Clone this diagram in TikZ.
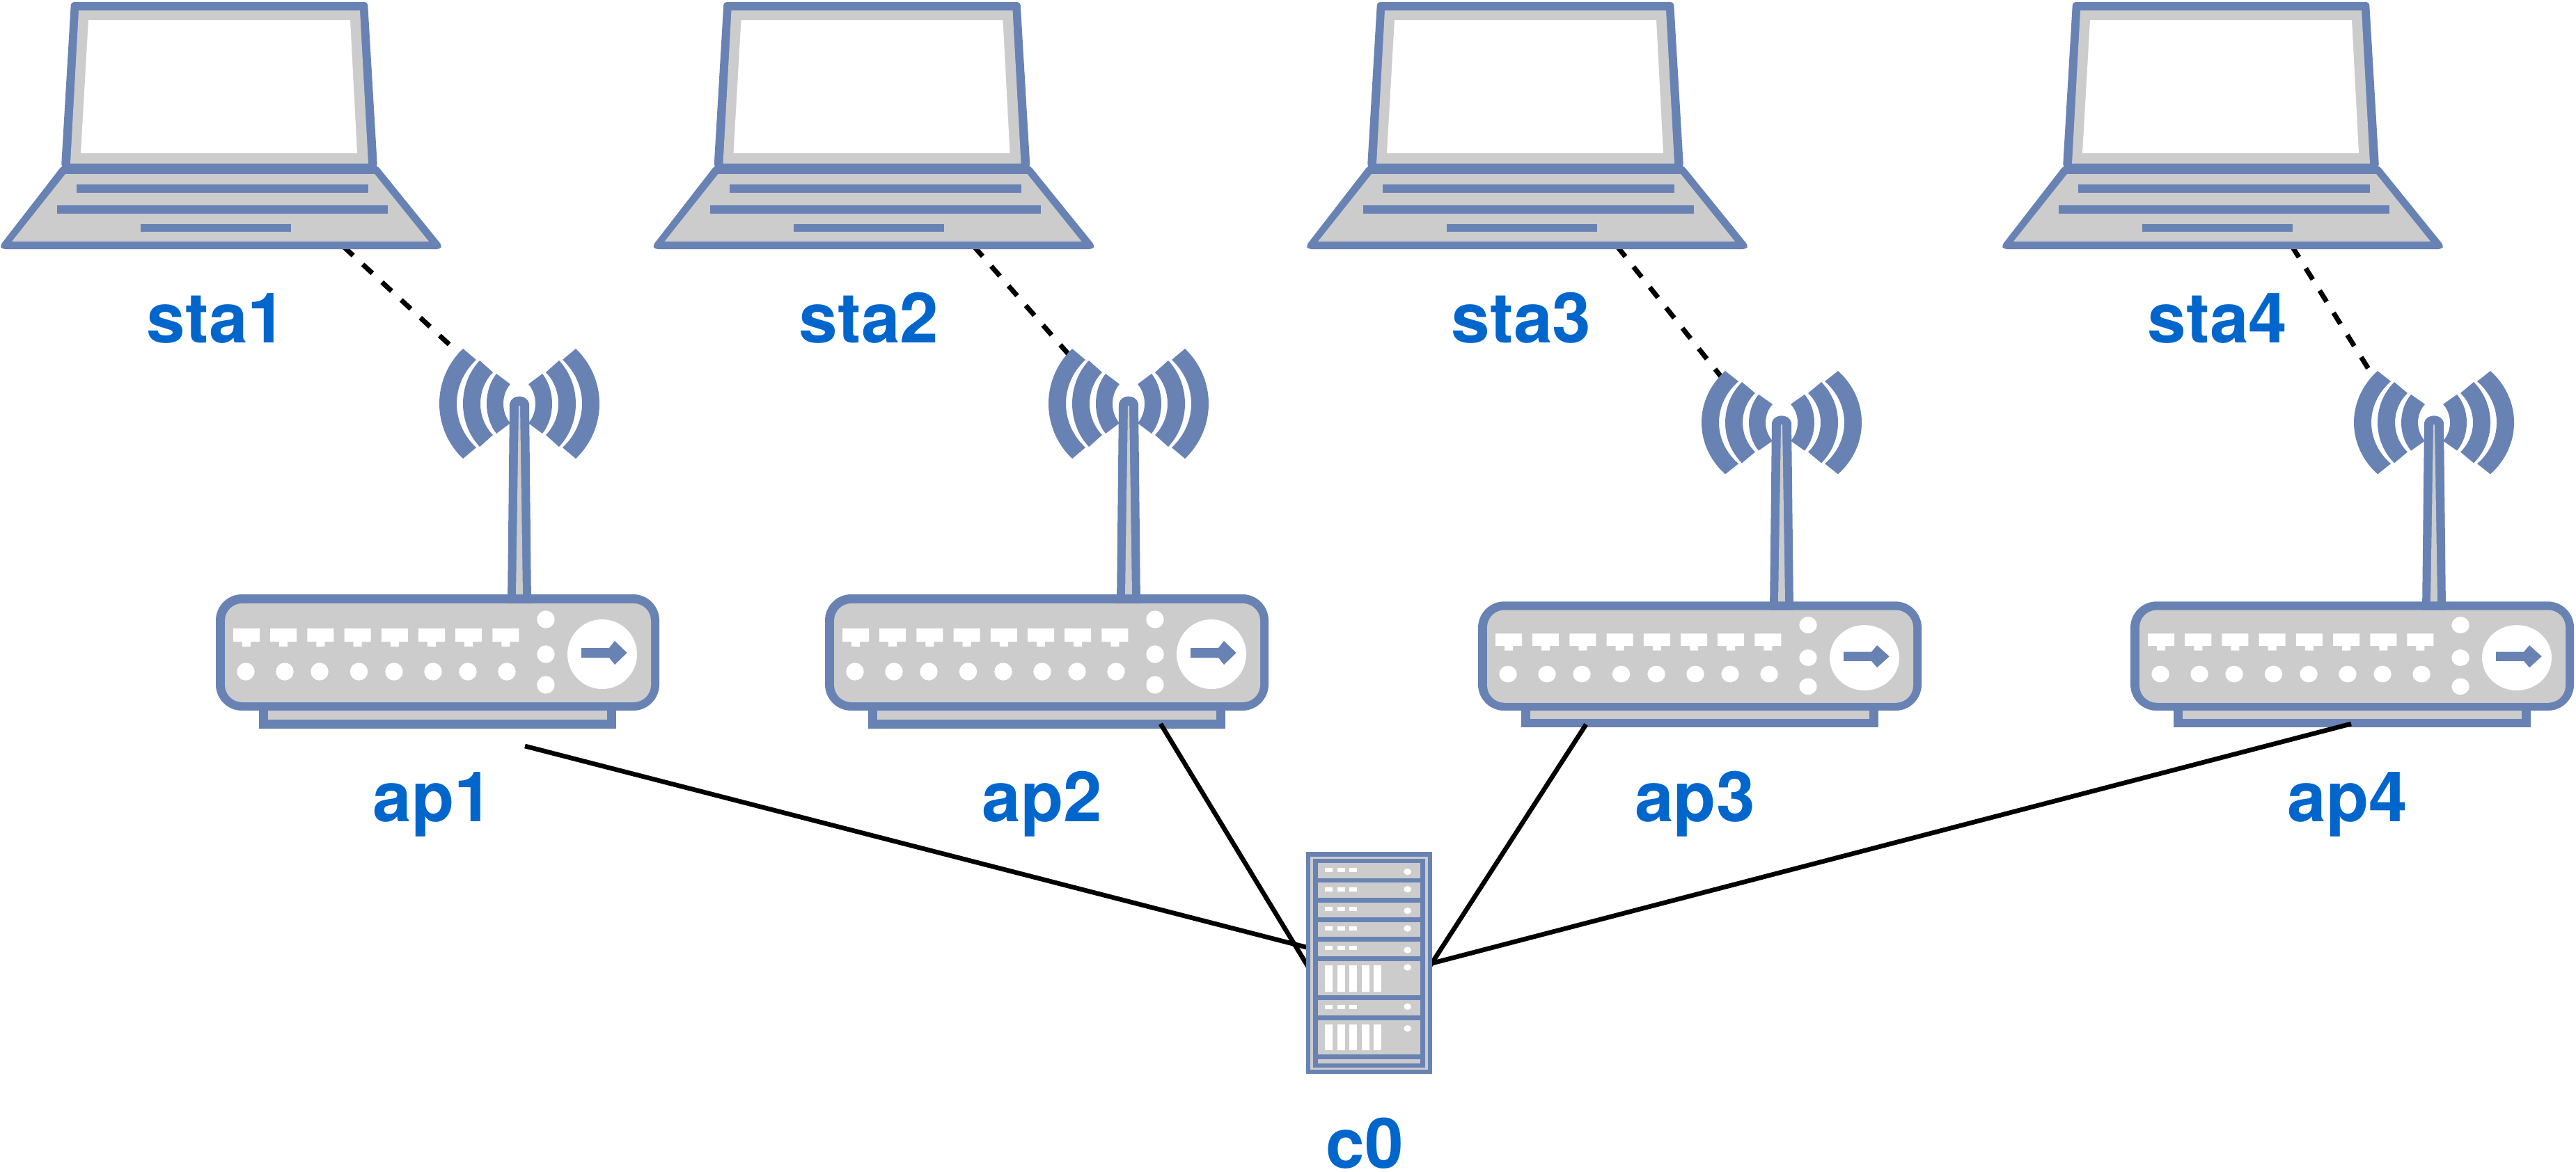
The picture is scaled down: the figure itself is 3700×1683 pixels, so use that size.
\documentclass[tikz,border=0pt]{standalone}
\usepackage{fontspec}
\setmainfont{TeX Gyre Heros}
\definecolor{iconblue}{HTML}{6982B4}
\definecolor{icongray}{HTML}{CCCCCC}
\definecolor{labelblue}{HTML}{0066CC}
\tikzset{
  x=0.24pt,y=-0.24pt,
  iconlabel/.style={text=labelblue,font=\bfseries\fontsize{24pt}{28pt}\selectfont,anchor=base,inner sep=0pt,outer sep=0pt},
  wired/.style={draw=black,line width=1.6pt},
  wireless/.style={draw=black,line width=1.7pt,dash pattern=on 4.51pt off 4.51pt},
  bluefill/.style={fill=iconblue},
  grayfill/.style={fill=icongray},
  whitefill/.style={fill=white}
}
\newcommand\waveband[6]{%
  \fill[bluefill] (-#1,-#2)
    .. controls ({-(#1+4/3*(#3-#1))},{-.45*#2}) and ({-(#1+4/3*(#3-#1))},{.45*#2}) .. (-#1,#2)
    -- (-#4,#5)
    .. controls ({-(#4+4/3*(#6-#4))},{.45*#5}) and ({-(#4+4/3*(#6-#4))},{-.45*#5}) .. (-#4,-#5)
    -- cycle;}
\newcommand\laptopicon[1]{%
  \begin{scope}[shift={(#1,0)}]
    \fill[bluefill,rounded corners=1pt] (102,3)--(528,3)--(542,240)--(88,240)--cycle;
    \fill[bluefill,rounded corners=1pt] (89,238)--(542,238)--(635,353)--(632,358)--(3,358)--(0,353)--cycle;
    \fill[grayfill] (113,15)--(517,15)--(529,235)--(101,235)--cycle;
    \fill[whitefill] (127,29)--(503,29)--(513,220)--(116,220)--cycle;
    \fill[grayfill] (94,250)--(538,250)--(616,347)--(17,347)--cycle;
    \fill[bluefill] (110,265) rectangle (529,277);
    \fill[bluefill] (82,295) rectangle (557,307);
    \fill[bluefill] (202,322) rectangle (418,333);
  \end{scope}}
\newcommand\apicon[3]{%
  \begin{scope}[shift={(#1,#2)},yscale=#3,shift={(0,-501)}]
    \begin{scope}[shift={(746,580)}]
      \foreach \s in {1,-1}{
        \begin{scope}[xscale=\s]
          \waveband{81}{79}{115}{62}{63}{90}
          \waveband{57}{62}{81}{38}{45}{56}
          \waveband{33}{43}{47}{13}{28}{23}
        \end{scope}}
    \end{scope}
    \fill[bluefill] (372,1010) rectangle (885,1047);
    \fill[grayfill] (385,1015) rectangle (872,1034);
    \fill[bluefill,rounded corners=9pt] (310,854) rectangle (947,1021);
    \fill[grayfill,rounded corners=6pt] (323,867) rectangle (935,1009);
    \fill[bluefill] (732,580) .. controls (735,566) and (757,566) .. (760,580) -- (763,867) -- (729,867) -- cycle;
    \fill[grayfill] (745,583) -- (747,583) -- (751,854) -- (741,854) -- cycle;
    \foreach \i in {0,...,7}{
      \fill[whitefill] ({335+53.2*\i},903) -- ++(38,0) -- ++(0,19) -- ++(-13,0) -- ++(0,7) -- ++(-12,0) -- ++(0,-7) -- ++(-13,0) -- cycle;}
    \foreach \x in {353,409,459,515.5,566,622,672,728}{
      \fill[whitefill] (\x,965) circle [radius=12.7];}
    \foreach \y in {890,940,984}{
      \fill[whitefill] (784,\y) circle [radius=12.7];}
    \fill[whitefill] (865,940) circle [radius=50];
    \fill[bluefill] (835,931) -- (875,931) -- (883,921) -- (900.7,938) -- (883,955) -- (875,945) -- (835,945) -- cycle;
  \end{scope}}
\newcommand\rackunit[1]{\fill[whitefill] (369,#1) rectangle (402,#1+18);
  \fill[whitefill] (422,#1) rectangle (455,#1+18);
  \fill[whitefill] (474,#1) rectangle (507,#1+18);}
\newcommand\rackbars[1]{\foreach \x in {369,422,474,527,579}{\fill[whitefill] (\x,#1) rectangle (\x+33,#1+113);}}
\begin{document}
\begin{tikzpicture}
\useasboundingbox (0,0) rectangle (3700,1683);
% connector ends
\coordinate (sta1p) at (493.5,354.4);   \coordinate (ant1) at (668,516);
\coordinate (sta2p) at (1399,354.2); \coordinate (ant2) at (1540,515);
\coordinate (sta3p) at (2322.8,354); \coordinate (ant3) at (2475,545);
\coordinate (sta4p) at (3292,353.7);  \coordinate (ant4) at (3405,535);
\coordinate (ap1p) at (754,1072);
\coordinate (ap2p) at (1667,1040);
\coordinate (ap3p) at (2278,1041);
\coordinate (ap4p) at (3377,1040);
\coordinate (c0a) at (1882,1362.5);
\coordinate (c0b) at (1880,1391);
\coordinate (c0c) at (2052,1391);
\coordinate (c0d) at (2052,1385.3);
% wireless links lie behind the icons
\draw[wireless] (sta1p) -- (ant1);
\draw[wireless] (sta2p) -- (ant2);
\draw[wireless] (sta3p) -- (ant3);
\draw[wireless] (sta4p) -- (ant4);
% stations
\laptopicon{0}
\laptopicon{937.5}
\laptopicon{1876}
\laptopicon{2875}
% access points
\apicon{0}{501}{1}
\apicon{875}{501}{1}
\apicon{1813}{533}{0.9386}
\apicon{2750}{533}{0.9386}
% wired links
\draw[wired] (ap1p) -- (c0a);
\draw[wired] (ap2p) -- (c0b);
\draw[wired] (ap3p) -- (c0c);
\draw[wired] (ap4p) -- (c0d);
% controller
\begin{scope}[shift={(1780,1180)},xscale=0.33333,yscale=0.33333]
  \fill[bluefill] (288,132) rectangle (832,1090);
  \fill[grayfill] (305,152) rectangle (813,1072);
  \fill[bluefill] (318,162) rectangle (800,1062);
  \foreach \a/\b in {181/245,265/330,350/414,434/498,519/583,603/751,772/836,857/1005,1026/1043}{
    \fill[grayfill] (338,\a) rectangle (780,\b);}
  \foreach \a in {200,284,369,453,538,791}{\rackunit{\a}}
  \rackbars{621}
  \rackbars{875}
  \foreach \y in {218,293,386,462,555,630,799,893}{
    \fill[whitefill] (725,\y) ellipse [x radius=16,y radius=14];}
\end{scope}
% labels
\node[iconlabel] (sta1) at (311,492) {sta1};
\node[iconlabel] (sta2) at (1248,492) {sta2};
\node[iconlabel] (sta3) at (2185,492) {sta3};
\node[iconlabel] (sta4) at (3185,492) {sta4};
\node[iconlabel] (ap1) at (622,1180) {ap1};
\node[iconlabel] (ap2) at (1497,1180) {ap2};
\node[iconlabel] (ap3) at (2434.5,1180) {ap3};
\node[iconlabel] (ap4) at (3372,1180) {ap4};
\node[iconlabel] (c0) at (1960,1678) {c0};
\end{tikzpicture}
\end{document}
